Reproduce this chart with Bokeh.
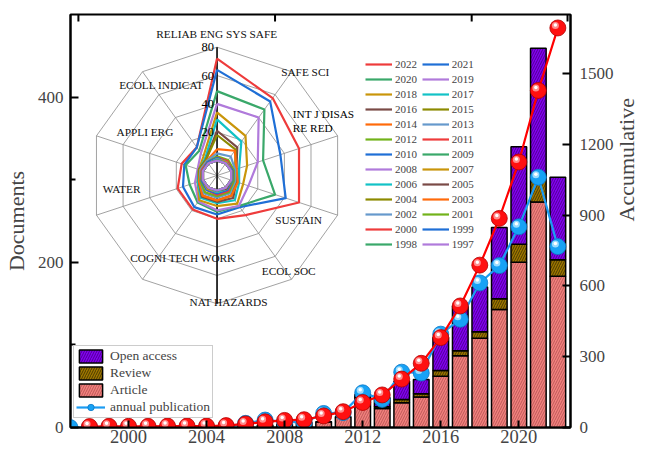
import math
import numpy as np
from bokeh.plotting import figure
from bokeh.models import Range1d, LinearAxis, FixedTicker, Legend, LegendItem
from bokeh.embed import file_html
from bokeh.resources import INLINE
from bokeh.core.properties import value

# ---------------- data ----------------
years = list(range(1997, 2023))
article = [0, 0, 0, 0, 0, 0, 0, 0, 0, 1, 3, 4, 6, 7, 13, 36, 23, 30, 37, 62, 87, 108, 143, 200, 273, 183]
review = [0, 0, 0, 0, 0, 0, 0, 0, 0, 0, 0, 0, 0, 0, 0, 1, 2, 4, 4, 7, 6, 8, 13, 22, 34, 20]
open_access = [0, 0, 0, 0, 0, 0, 0, 0, 0, 0, 0, 0, 0, 0, 0, 3, 11, 22, 17, 40, 54, 54, 86, 118, 152, 100]
annual = [0, 0, 0, 0, 0, 0, 0, 0, 1, 5, 9, 7, 6, 17, 18, 42, 34, 67, 66, 113, 131, 175, 196, 243, 303, 219]
accumulative = [float("nan"), 4, 5, 5, 5, 6, 6, 6, 8, 15, 24, 30, 33, 49, 67, 106, 138, 205, 272, 381, 515, 688, 886, 1125, 1428, 1693]

year_ticks = [2000, 2004, 2008, 2012, 2016, 2020]
doc_ticks = [0, 200, 400]
doc_minor_ticks = [100, 300]
acc_ticks = [0, 300, 600, 900, 1200, 1500]

radar_categories = ["RELIAB ENG SYS SAFE", "SAFE SCI", "INT J DISAS\nRE RED", "SUSTAIN", "ECOL SOC",
                    "NAT HAZARDS", "COGNI TECH WORK", "WATER", "APPLI ERG", "ECOLL INDICAT"]
radar_rings = [0, 20, 40, 60, 80]
radar_ring_labels = [20, 40, 60, 80]

rad_2022 = [72, 57, 51, 51, 24, 20, 19, 19, 16, 14]
rad_2021 = [64, 54, 37, 41, 17, 17, 17, 15, 14, 14]
rad_2020 = [49, 47, 24, 33, 16, 15, 13, 10, 13, 11]
rad_2019 = [40, 40, 20, 13, 16, 14, 12, 6, 4, 9]
rad_2018 = [34, 24, 12, 9, 14, 11, 11, 4, 3, 6]
rad_2017 = [29, 19, 6, 6, 11, 9, 9, 4, 3, 4]
rad_2016 = [21, 14, 4, 4, 9, 8, 8, 3, 3, 3]
rad_2015 = [18, 12, 3, 3, 7, 7, 7, 3, 3, 3]
rad_2014 = [8, 11, 4, 5, 7, 7, 7, 3, 2, 2]
rad_2013 = [5, 6, 3, 3, 5, 5, 5, 2, 2, 2]
rad_2012 = [3, 3, 2, 2, 4, 4, 4, 2, 1, 1]
rad_2011 = [2, 2, 1, 1, 3, 3, 2, 1, 1, 1]
rad_2010 = [2, 1, 1, 1, 2, 2, 2, 1, 0, 1]
rad_2009 = [1, 1, 0, 1, 1, 1, 1, 0, 0, 0]
rad_2008 = [1, 1, 0, 0, 1, 1, 1, 0, 0, 0]
rad_2007 = [1, 1, 0, 0, 1, 1, 1, 0, 0, 0]
rad_2006 = [1, 0, 0, 0, 1, 1, 0, 0, 0, 0]
rad_2005 = [0, 0, 0, 0, 1, 0, 0, 0, 0, 0]
rad_2004 = [0, 0, 0, 0, 0, 0, 0, 0, 0, 0]
rad_2003 = [0, 0, 0, 0, 0, 0, 0, 0, 0, 0]
rad_2002 = [0, 0, 0, 0, 0, 0, 0, 0, 0, 0]
rad_2001 = [0, 0, 0, 0, 0, 0, 0, 0, 0, 0]
rad_2000 = [0, 0, 0, 0, 0, 0, 0, 0, 0, 0]
rad_1999 = [0, 0, 0, 0, 0, 0, 0, 0, 0, 0]
rad_1998 = [0, 0, 0, 0, 0, 0, 0, 0, 0, 0]
rad_1997 = [0, 0, 0, 0, 0, 0, 0, 0, 0, 0]

radar_years = list(range(2022, 1996, -1))
radar_series = [rad_2022, rad_2021, rad_2020, rad_2019, rad_2018, rad_2017, rad_2016, rad_2015,
                rad_2014, rad_2013, rad_2012, rad_2011, rad_2010, rad_2009, rad_2008, rad_2007,
                rad_2006, rad_2005, rad_2004, rad_2003, rad_2002, rad_2001, rad_2000, rad_1999,
                rad_1998, rad_1997]

# ---------------- style / layout ----------------
FONT = "Liberation Serif"
W, H = 654, 450
CYCLE = ["#EE3B3B", "#1F6FD6", "#3AA86A", "#B07ADB", "#C9950A", "#12C2C6",
         "#7A4A46", "#8C8A00", "#FF6A0A", "#6699CC", "#72B21A"]

# frame in canvas px: x 70..576, y 14..427
FX0, FX1, FY0, FY1 = 70, 576, 14, 427
X0 = 2000 - (128.7 - FX0) / 19.75
X1 = 2000 + (FX1 - 128.7) / 19.75
PX_PER_YEAR = (FX1 - FX0) / (X1 - X0)
PX_PER_DOC = (FY1 - FY0) / 500
PX_PER_ACC = (FY1 - FY0) / 1750

p = figure(width=W, height=H, output_backend="svg", toolbar_location=None,
           x_range=Range1d(X0, X1), y_range=Range1d(0, 500),
           min_border_left=FX0, min_border_right=W - FX1, min_border_top=FY0,
           min_border_bottom=H - FY1,
           background_fill_color="white", border_fill_color="white")
p.extra_y_ranges = {"acc": Range1d(0, 1750), "ry": Range1d(-FY1, -FY0)}
p.extra_x_ranges = {"rx": Range1d(FX0, FX1)}
p.xgrid.visible = False
p.ygrid.visible = False
p.outline_line_color = "black"
p.outline_line_width = 2

# bottom axis
xa = p.xaxis[0]
xa.ticker = FixedTicker(ticks=year_ticks, minor_ticks=[])
xa.major_label_text_font = FONT
xa.major_label_text_font_size = "18.5px"
xa.major_label_standoff = 2
xa.major_tick_in = 7
xa.major_tick_out = 0
xa.minor_tick_line_color = None
xa.axis_line_width = 2
xa.major_tick_line_width = 2

# left axis
ya = p.yaxis[0]
ya.ticker = FixedTicker(ticks=doc_ticks, minor_ticks=doc_minor_ticks)
ya.major_label_text_font = FONT
ya.major_label_text_font_size = "17px"
ya.major_label_standoff = 7
ya.major_tick_in = 8
ya.major_tick_out = 0
ya.minor_tick_in = 5
ya.minor_tick_out = 0
ya.axis_line_width = 2
ya.major_tick_line_width = 2
ya.minor_tick_line_width = 2
ya.axis_label = "Documents"
ya.axis_label_text_font = FONT
ya.axis_label_text_font_size = "22px"
ya.axis_label_text_font_style = "normal"
ya.axis_label_standoff = 6

# right axis
ra = LinearAxis(y_range_name="acc", ticker=FixedTicker(ticks=acc_ticks, minor_ticks=[]))
ra.major_label_text_font = FONT
ra.major_label_text_font_size = "17px"
ra.major_label_standoff = 9
ra.major_tick_in = 8
ra.major_tick_out = 0
ra.axis_line_width = 2
ra.major_tick_line_width = 2
p.add_layout(ra, "right")

# right axis title, reading bottom-to-top (placed as a single rotated tick label)
TITLE_ACC = 1750 * (FY1 - 221) / (FY1 - FY0)
ta2 = LinearAxis(y_range_name="acc", ticker=FixedTicker(ticks=[TITLE_ACC], minor_ticks=[]))
ta2.major_label_overrides = {TITLE_ACC: "Accumulative"}
ta2.major_label_orientation = math.pi / 2
ta2.major_label_text_font = FONT
ta2.major_label_text_font_size = "22px"
ta2.major_label_standoff = 4
ta2.axis_line_color = None
ta2.major_tick_line_color = None
ta2.minor_tick_line_color = None
p.add_layout(ta2, "right")

# top frame ticks
top_ticks = [78, 277, 476, 573]
p.segment(x0=top_ticks, y0=[-FY0] * 4, x1=top_ticks, y1=[-(FY0 + 7)] * 4, line_color="black",
          line_width=2, x_range_name="rx", y_range_name="ry")

# ---------------- bars ----------------
art = np.array(article, dtype=float)
rev = np.array(review, dtype=float)
oa = np.array(open_access, dtype=float)
BAR_W = 0.8
b_art = p.vbar(x=years, width=BAR_W, bottom=0, top=art, fill_color="#F2817E",
               line_color="black", line_width=1.5, hatch_pattern="/", hatch_color="#A84848",
               hatch_weight=0.7, hatch_scale=5)
b_rev = p.vbar(x=years, width=BAR_W, bottom=art, top=art + rev, fill_color="#9E7700",
               line_color="black", line_width=1.5, hatch_pattern="/", hatch_color="#2A2000",
               hatch_weight=0.7, hatch_scale=5)
b_oa = p.vbar(x=years, width=BAR_W, bottom=art + rev, top=art + rev + oa, fill_color="#8300F2",
              line_color="black", line_width=1.5, hatch_pattern="/", hatch_color="#3A006A",
              hatch_weight=0.7, hatch_scale=5)

# ---------------- lines with balls ----------------
yr = np.array(years, dtype=float)
ann = np.array(annual, dtype=float)
acc = np.array(accumulative, dtype=float)
HX = -2.5 / PX_PER_YEAR

l_ann = p.line(yr, ann, line_color="#1C9CF2", line_width=2.2)
s_ann = p.scatter(yr, ann, size=16, fill_color="#17A2F5", line_color="#0A78C8", line_width=0.8)
p.scatter(yr + HX, ann + 2.5 / PX_PER_DOC, size=7, fill_color="#A8E2FF", line_color=None, fill_alpha=0.9)
p.scatter(yr + HX, ann + 3.0 / PX_PER_DOC, size=3.5, fill_color="white", line_color=None)

p.line(yr, acc, line_color="#FF0000", line_width=2.2, y_range_name="acc")
p.scatter(yr, acc, size=16, fill_color="#FF1010", line_color="#B00000", line_width=0.8, y_range_name="acc")
p.scatter(yr + HX, acc + 2.5 / PX_PER_ACC, size=7, fill_color="#FF9A9A", line_color=None,
          fill_alpha=0.9, y_range_name="acc")
p.scatter(yr + HX, acc + 3.0 / PX_PER_ACC, size=3.5, fill_color="white", line_color=None, y_range_name="acc")

# ---------------- radar inset ----------------
CX, CY = 218.3, -175.0
R0, RS = 15.0, (128.3 - 15.0) / 80.0
n = len(radar_categories)
angles = [math.radians(90 - 36 * i) for i in range(n)]


def rad_xy(vals):
    xs = [CX + (R0 + RS * v) * math.cos(a) for v, a in zip(vals, angles)]
    ys = [CY + (R0 + RS * v) * math.sin(a) for v, a in zip(vals, angles)]
    return xs + xs[:1], ys + ys[:1]


for ring in radar_rings:
    xs, ys = rad_xy([ring] * n)
    p.line(xs, ys, line_color="#8A8A8A", line_width=0.8, x_range_name="rx", y_range_name="ry")
rmax = R0 + RS * radar_rings[-1]
for a in angles:
    p.segment(x0=[CX], y0=[CY], x1=[CX + rmax * math.cos(a)], y1=[CY + rmax * math.sin(a)],
              line_color="#8A8A8A", line_width=0.8, x_range_name="rx", y_range_name="ry")
p.segment(x0=[CX], y0=[CY + rmax], x1=[CX], y1=[CY - rmax], line_color="black", line_width=1.5,
          x_range_name="rx", y_range_name="ry")

radar_renderers = []
for i, (yy, vals) in enumerate(zip(radar_years, radar_series)):
    xs, ys = rad_xy(vals)
    r = p.line(xs, ys, line_color=CYCLE[i % len(CYCLE)], line_width=2.2, line_join="round",
               x_range_name="rx", y_range_name="ry")
    radar_renderers.append(r)

# ring value labels
p.text(x=[CX - 3] * len(radar_ring_labels), y=[CY + R0 + RS * v for v in radar_ring_labels],
       text=[str(v) for v in radar_ring_labels], text_align="right", text_baseline="middle",
       text_font=value(FONT), text_font_size="12.5px", text_color="black",
       x_range_name="rx", y_range_name="ry")

# category labels (screen positions of the labels)
label_pos = [(218.0, 33.3), (307.5, 71.7), (295.0, 120.5), (300.8, 219.3), (291.0, 270.7),
             (230.0, 301.7), (183.8, 257.3), (121.7, 188.3), (145.3, 131.7), (162.0, 84.0)]
left_aligned = {2}
cx_c = [label_pos[i][0] for i in range(n) if i not in left_aligned]
cy_c = [-label_pos[i][1] for i in range(n) if i not in left_aligned]
tx_c = [radar_categories[i] for i in range(n) if i not in left_aligned]
p.text(x=cx_c, y=cy_c, text=tx_c, text_align="center", text_baseline="middle",
       text_font=value(FONT), text_font_size="11.3px", text_color="#111111",
       x_range_name="rx", y_range_name="ry")
p.text(x=[label_pos[i][0] for i in left_aligned], y=[-label_pos[i][1] for i in left_aligned],
       text=[radar_categories[i] for i in left_aligned], text_align="left", text_baseline="middle",
       text_font=value(FONT), text_font_size="11.3px", text_color="black", text_line_height=1.2,
       x_range_name="rx", y_range_name="ry")

# year legends (two columns)
col1 = [LegendItem(label=str(y), renderers=[r]) for k, (y, r) in enumerate(zip(radar_years, radar_renderers)) if k % 2 == 0]
col2 = [LegendItem(label=str(y), renderers=[r]) for k, (y, r) in enumerate(zip(radar_years, radar_renderers)) if k % 2 == 1]
for items, gx in ((col1, 365), (col2, 421.7)):
    lg = Legend(items=items, location=(gx - FX0, FY1 - 251), padding=0, margin=0, spacing=1,
                glyph_width=27, glyph_height=14, label_height=14, label_standoff=3,
                label_text_font=FONT, label_text_font_size="11px", label_text_baseline="middle",
                border_line_color=None, background_fill_alpha=0)
    p.add_layout(lg)

# bar / line legend
lg2 = Legend(items=[LegendItem(label="Open access", renderers=[b_oa]),
                    LegendItem(label="Review", renderers=[b_rev]),
                    LegendItem(label="Article", renderers=[b_art]),
                    LegendItem(label="annual publication", renderers=[l_ann, s_ann])],
             location=(3, 9), padding=2, margin=0, spacing=1, glyph_width=29, glyph_height=16,
             label_height=16, label_standoff=5, label_text_font=FONT, label_text_font_size="13.5px",
             label_text_baseline="middle", border_line_color="#9A9A9A", border_line_width=1,
             background_fill_color="white", background_fill_alpha=1)
p.add_layout(lg2)

open("out.html", "w").write(file_html(p, INLINE))
